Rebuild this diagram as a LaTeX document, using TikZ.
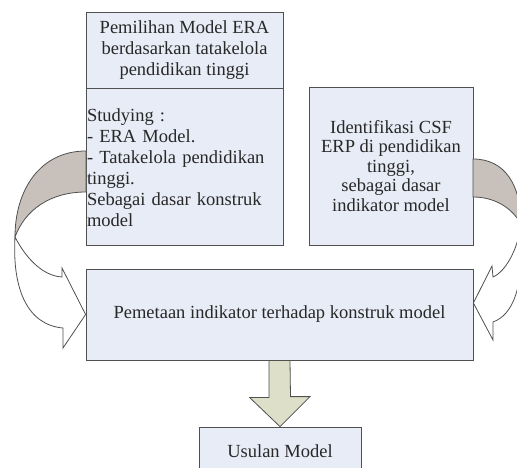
\documentclass[tikz,border=0pt]{standalone}
\usepackage{fontspec}
\setmainfont{Liberation Serif}
\usetikzlibrary{positioning}

\definecolor{isikotak}{RGB}{232,236,246}
\definecolor{garis}{RGB}{80,80,80}
\definecolor{tinta}{RGB}{40,40,40}
\definecolor{belakang}{RGB}{200,193,187}
\definecolor{zaitun}{RGB}{221,223,200}

\begin{document}
\begin{tikzpicture}[x=1pt, y=-1pt,
  kotak/.style={draw=garis, fill=isikotak, line width=.8pt, text=tinta, inner sep=1pt, align=center,
    font=\fontsize{18.5}{21}\selectfont},
  panah/.style={draw=garis, line width=.8pt}]

\useasboundingbox (0,0) rectangle (517,468);
\fill[white] (0,0) rectangle (517,468);
\clip (0,0) rectangle (517,468);

\node[kotak, minimum width=197pt, minimum height=76pt] (pilih) at (184.5,50) {Pemilihan Model ERA\\berdasarkan tatakelola\\pendidikan tinggi};
\node[kotak, below=0pt of pilih, text width=195pt, minimum height=157pt, align=left] (studi) {Studying :\\- ERA Model.\\- Tatakelola pendidikan\\tinggi.\\Sebagai dasar konstruk\\model};

\node[kotak, minimum width=164pt, minimum height=158pt, font=\fontsize{18.5}{19.5}\selectfont] (csf) at (391,166) {Identifikasi CSF\\ERP di pendidikan\\tinggi,\\sebagai dasar\\indikator model};

\node[kotak, minimum width=387pt, minimum height=91pt] (peta) at (279.5,314.5) {Pemetaan indikator terhadap konstruk model};
\node[kotak, minimum width=162pt, minimum height=48pt] (usul) at (280,451) {Usulan Model};

\draw[panah, fill=zaitun] ([xshift=-10.5pt]peta.south) -- ++(0,37) -- ++(-19.5,0) -- (usul.north) -- ++(30,-30) -- ++(-19.5,0) -- ([xshift=10.5pt]peta.south) -- cycle;

\draw[panah, fill=belakang] (86,151) .. controls (40,151) and (15,190) .. (15,237) .. controls (25,210) and (50,192) .. (86,192) -- cycle;
\draw[panah, fill=white] (15,237) .. controls (28,262) and (45,276) .. (62,277) -- (62,268) -- (peta.west) -- (63,348) -- (63,328) .. controls (28,325) and (12,290) .. (15,237) -- cycle;

\draw[panah, fill=belakang] (473,159) .. controls (505,159) and (521,185) .. (521,224) .. controls (512,208) and (495,197) .. (473,197) -- cycle;
\draw[panah, fill=white] (521,224) .. controls (518,250) and (505,272) .. (493,277) -- (492,266) -- ([yshift=11.5pt]peta.east) -- (493,340) -- (493,322) .. controls (512,315) and (525,290) .. (521,224) -- cycle;

\end{tikzpicture}
\end{document}
